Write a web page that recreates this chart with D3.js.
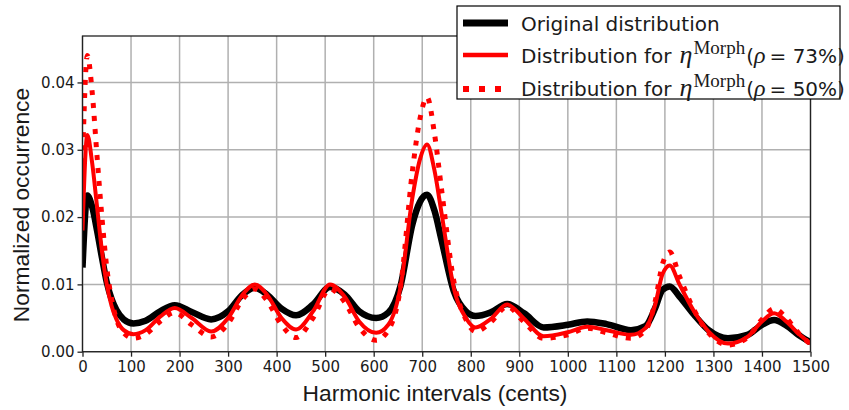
<!DOCTYPE html>
<html>
<head>
<meta charset="utf-8">
<script src="https://cdn.jsdelivr.net/npm/d3@7"></script>
<style>
  body { margin: 0; background: #fff; }
  text { font-family: "DejaVu Sans", sans-serif; fill: #1a1a1a; }
</style>
</head>
<body>
<div id="chart"></div>
<script>
// sample positions (cents)
const cents = [0, 10, 20, 30, 40, 50, 60, 70, 85, 105, 130, 160, 190, 225, 265, 300, 330, 355, 380, 410,
  440, 475, 510, 540, 570, 605, 630, 655, 680, 695, 710, 725, 740, 765, 790, 810, 840, 875, 910, 950,
  1000, 1040, 1080, 1130, 1160, 1180, 1195, 1210, 1230, 1260, 1290, 1330, 1370, 1400, 1425, 1450, 1475, 1500];

const original = [0.0125, 0.0232, 0.0215, 0.0180, 0.0140, 0.0103, 0.0078, 0.0062, 0.0048, 0.0042, 0.0046, 0.0060,
  0.0069, 0.0059, 0.0048, 0.0060, 0.0085, 0.0095, 0.0085, 0.0064, 0.0054, 0.0070, 0.0096, 0.0085, 0.0060,
  0.0050, 0.0058, 0.0097, 0.0190, 0.0222, 0.0233, 0.0210, 0.0165, 0.0090, 0.0060, 0.0053, 0.0058, 0.0071,
  0.0057, 0.0036, 0.0040, 0.0045, 0.0041, 0.0032, 0.0038, 0.0065, 0.0092, 0.0097, 0.0082, 0.0055, 0.0032,
  0.0020, 0.0025, 0.0040, 0.0047, 0.0039, 0.0025, 0.0014];

const morph73 = [0.0180, 0.0322, 0.0280, 0.0215, 0.0150, 0.0100, 0.0068, 0.0048, 0.0032, 0.0026, 0.0032, 0.0052,
  0.0065, 0.0050, 0.0030, 0.0050, 0.0085, 0.0100, 0.0085, 0.0050, 0.0033, 0.0060, 0.0100, 0.0082, 0.0045,
  0.0028, 0.0040, 0.0095, 0.0230, 0.0285, 0.0308, 0.0270, 0.0205, 0.0095, 0.0050, 0.0036, 0.0048, 0.0070,
  0.0049, 0.0023, 0.0029, 0.0037, 0.0032, 0.0025, 0.0035, 0.0070, 0.0115, 0.0128, 0.0100, 0.0060, 0.0030,
  0.0012, 0.0022, 0.0045, 0.0057, 0.0045, 0.0027, 0.0012];

const morph50 = [0.0280, 0.0440, 0.0385, 0.0290, 0.0200, 0.0125, 0.0078, 0.0048, 0.0028, 0.0020, 0.0026, 0.0045,
  0.0058, 0.0040, 0.0022, 0.0042, 0.0078, 0.0093, 0.0076, 0.0040, 0.0021, 0.0050, 0.0093, 0.0074, 0.0036,
  0.0017, 0.0032, 0.0095, 0.0270, 0.0345, 0.0378, 0.0325, 0.0240, 0.0105, 0.0048, 0.0030, 0.0043, 0.0067,
  0.0044, 0.0020, 0.0025, 0.0035, 0.0028, 0.0020, 0.0032, 0.0075, 0.0130, 0.0148, 0.0112, 0.0062, 0.0028,
  0.0010, 0.0021, 0.0048, 0.0064, 0.0050, 0.0028, 0.0011];

const xTicks = d3.range(0, 1501, 100);
const yTicks = [0, 0.01, 0.02, 0.03, 0.04];

const width = 849;
const height = 410;
const margin = { top: 36, right: 38.5, bottom: 58.3, left: 82.5 };

const svg = d3.select("#chart")
  .append("svg")
  .attr("width", width)
  .attr("height", height);

const x = d3.scaleLinear()
  .domain([0, 1500])
  .range([margin.left, width - margin.right]);

const y = d3.scaleLinear()
  .domain([0, 0.0469])
  .range([height - margin.bottom, margin.top]);

// grid
svg.append("g")
  .selectAll("line")
  .data(xTicks)
  .enter().append("line")
  .attr("x1", d => x(d)).attr("x2", d => x(d))
  .attr("y1", margin.top).attr("y2", height - margin.bottom)
  .attr("stroke", "#b0b0b0").attr("stroke-width", 1.5);

svg.append("g")
  .selectAll("line")
  .data(yTicks)
  .enter().append("line")
  .attr("x1", margin.left).attr("x2", width - margin.right)
  .attr("y1", d => y(d)).attr("y2", d => y(d))
  .attr("stroke", "#b0b0b0").attr("stroke-width", 1.5);

// axes
const xAxis = svg.append("g")
  .attr("transform", `translate(0,${height - margin.bottom})`)
  .call(d3.axisBottom(x).tickValues(xTicks).tickSize(5).tickPadding(5).tickFormat(d3.format("d")));

const yAxis = svg.append("g")
  .attr("transform", `translate(${margin.left},0)`)
  .call(d3.axisLeft(y).tickValues(yTicks).tickSize(5).tickPadding(3).tickFormat(d3.format(".2f")));

[xAxis, yAxis].forEach(a => {
  a.select(".domain").remove();
  a.selectAll(".tick line").attr("stroke", "#222").attr("stroke-width", 1.3);
  a.selectAll(".tick text").style("font-size", "15px").style("font-family", "DejaVu Sans").attr("fill", "#1a1a1a");
});

// curves
svg.append("clipPath")
  .attr("id", "plot-clip")
  .append("rect")
  .attr("x", margin.left).attr("y", margin.top)
  .attr("width", width - margin.left - margin.right)
  .attr("height", height - margin.top - margin.bottom);

const line = values => d3.line()
  .x((d, i) => x(cents[i]))
  .y(d => y(d))
  .curve(d3.curveMonotoneX)(values);

const plot = svg.append("g").attr("clip-path", "url(#plot-clip)");

plot.append("path")
  .attr("d", line(original))
  .attr("fill", "none")
  .attr("stroke", "#000")
  .attr("stroke-width", 6.5)
  .attr("stroke-linejoin", "round");

plot.append("path")
  .attr("d", line(morph73))
  .attr("fill", "none")
  .attr("stroke", "#ff0000")
  .attr("stroke-width", 4)
  .attr("stroke-linejoin", "round");

plot.append("path")
  .attr("d", line(morph50))
  .attr("fill", "none")
  .attr("stroke", "#ff0000")
  .attr("stroke-width", 5)
  .attr("stroke-dasharray", "5,8");

// frame
svg.append("rect")
  .attr("x", margin.left).attr("y", margin.top)
  .attr("width", width - margin.left - margin.right)
  .attr("height", height - margin.top - margin.bottom)
  .attr("fill", "none")
  .attr("stroke", "#222")
  .attr("stroke-width", 1.3);

// axis labels
svg.append("text")
  .attr("x", 435)
  .attr("y", 401)
  .attr("text-anchor", "middle")
  .style("font-family", "Liberation Sans, Arial, sans-serif")
  .style("font-size", "22.8px")
  .text("Harmonic intervals (cents)");

svg.append("text")
  .attr("transform", "translate(29,205) rotate(-90)")
  .attr("text-anchor", "middle")
  .style("font-family", "Liberation Sans, Arial, sans-serif")
  .style("font-size", "22.8px")
  .text("Normalized occurrence");

// legend
const legend = svg.append("g").attr("class", "legend");

legend.append("rect")
  .attr("x", 457).attr("y", 6)
  .attr("width", 383).attr("height", 93)
  .attr("fill", "#fff")
  .attr("stroke", "#000")
  .attr("stroke-width", 1.2);

const rows = [
  { y: 23, color: "#000", width: 7, dash: null },
  { y: 55, color: "#ff0000", width: 4.5, dash: null },
  { y: 89, color: "#ff0000", width: 6, dash: "6,10" }
];

legend.selectAll("line.key")
  .data(rows)
  .enter().append("line")
  .attr("class", "key")
  .attr("x1", 463).attr("x2", 508)
  .attr("y1", d => d.y).attr("y2", d => d.y)
  .attr("stroke", d => d.color)
  .attr("stroke-width", d => d.width)
  .attr("stroke-dasharray", d => d.dash);

legend.append("text")
  .attr("x", 521).attr("y", 31)
  .style("font-size", "20px")
  .text("Original distribution");

const morphLabels = ["73%)", "50%)"];

morphLabels.forEach((lab, i) => {
  const t = legend.append("text")
    .attr("x", 521).attr("y", 63 + i * 33)
    .style("font-size", "20px");
  t.append("tspan").text("Distribution for");
  t.append("tspan")
    .attr("dx", 8)
    .style("font-family", "Liberation Serif, serif")
    .style("font-style", "italic")
    .style("font-size", "26px")
    .text("η");
  t.append("tspan")
    .attr("dy", -9)
    .attr("dx", 1)
    .style("font-family", "Liberation Serif, serif")
    .style("font-size", "19px")
    .text("Morph");
  t.append("tspan")
    .attr("dy", 9)
    .attr("dx", 1)
    .text("(");
  t.append("tspan")
    .style("font-family", "Liberation Serif, serif")
    .style("font-style", "italic")
    .style("font-size", "24px")
    .text("ρ");
  t.append("tspan")
    .attr("dx", 4)
    .text("= " + lab);
});
</script>
</body>
</html>
